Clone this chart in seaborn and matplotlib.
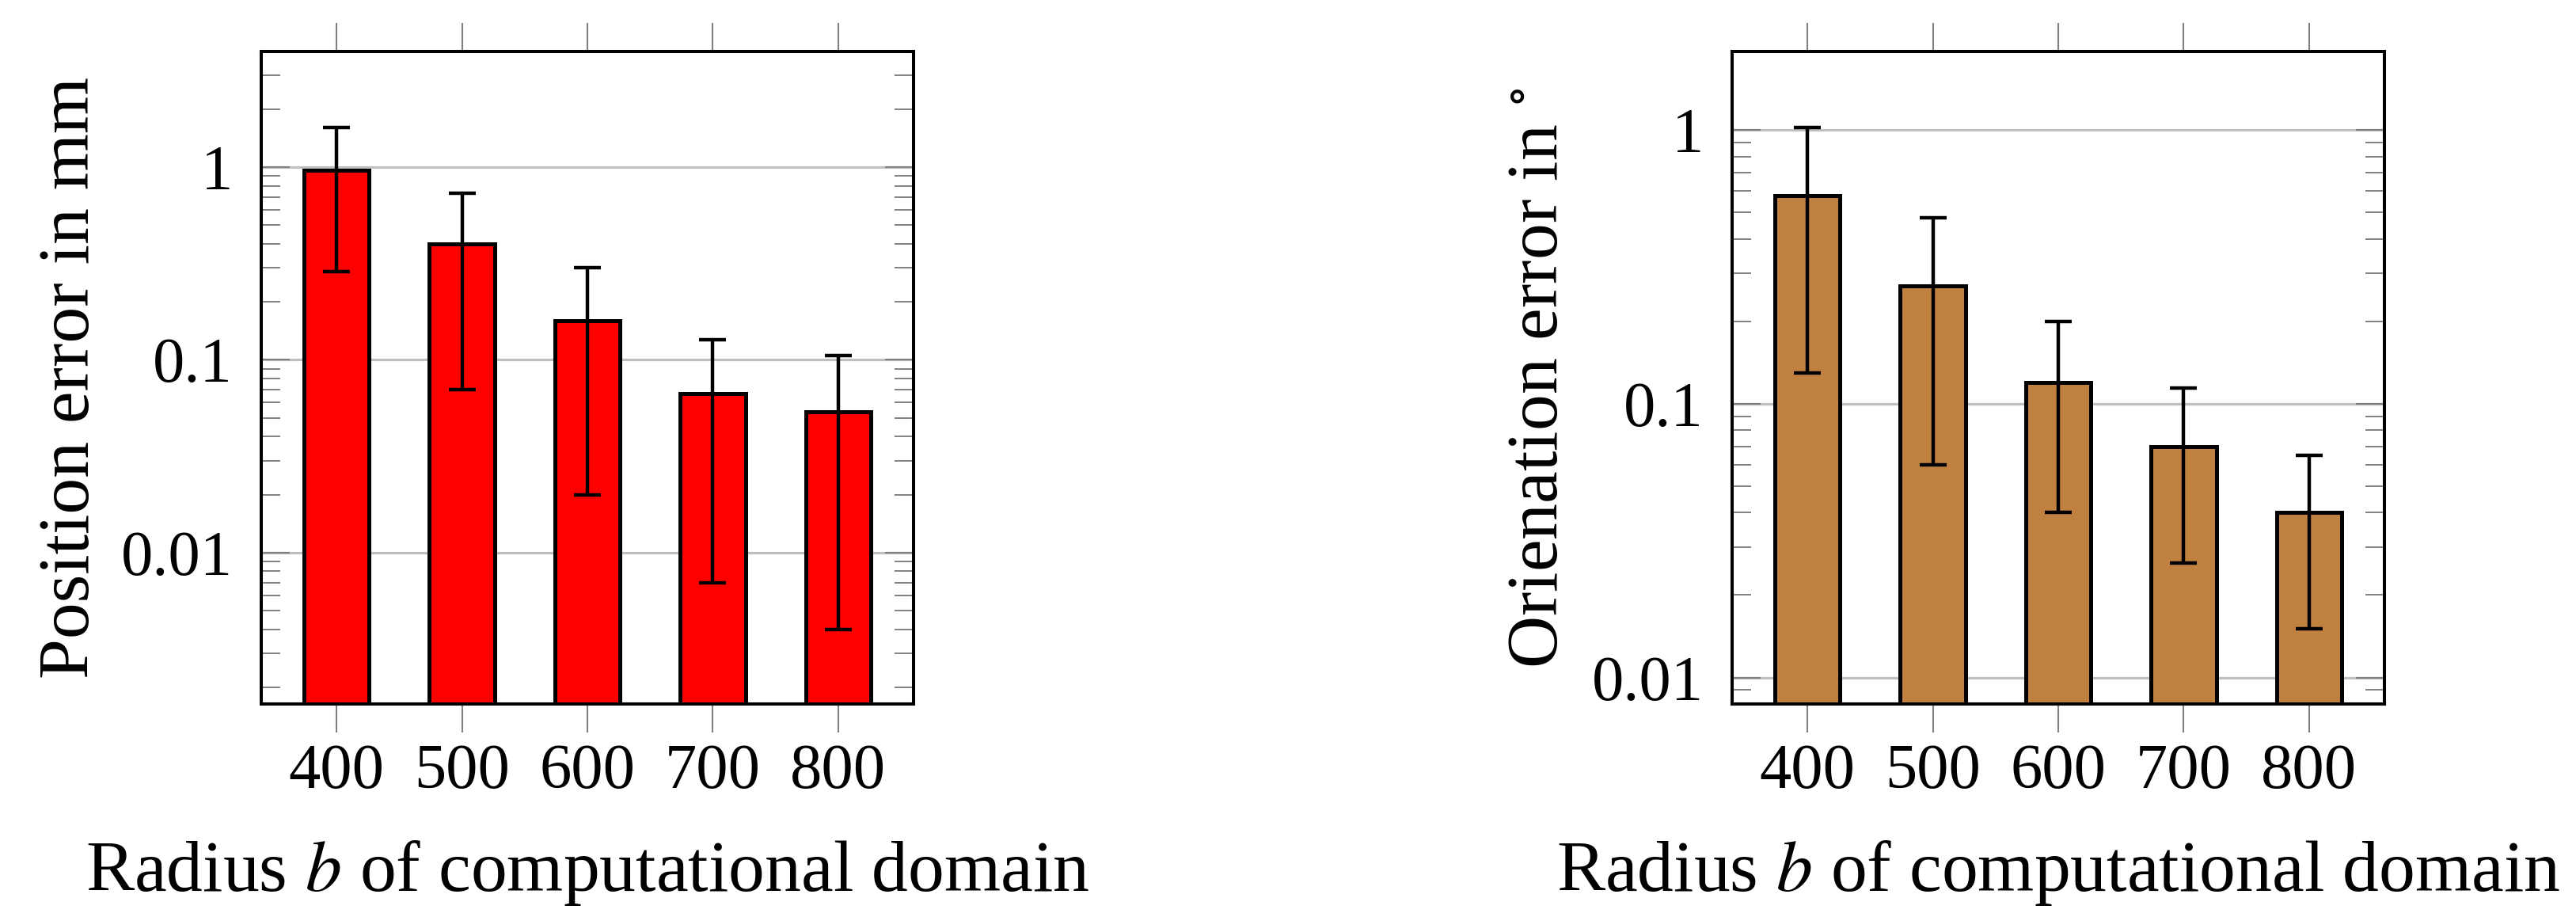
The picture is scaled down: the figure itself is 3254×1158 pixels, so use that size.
import numpy as np
import pandas as pd
import matplotlib
matplotlib.use('Agg')
import matplotlib.pyplot as plt
import seaborn as sns
from matplotlib.ticker import FixedLocator, FixedFormatter, LogLocator, NullFormatter

# ---- data ----
radius = ['400', '500', '600', '700', '800']

pos_err = [0.96, 0.40, 0.16, 0.067, 0.054]
pos_lo = [0.288, 0.070, 0.020, 0.0070, 0.0040]
pos_hi = [1.61, 0.734, 0.30, 0.127, 0.105]

ori_err = [0.578, 0.269, 0.120, 0.070, 0.040]
ori_lo = [0.130, 0.060, 0.040, 0.0262, 0.0151]
ori_hi = [1.024, 0.479, 0.200, 0.114, 0.065]

ytick_vals = [0.01, 0.1, 1]
ytick_labels = ['0.01', '0.1', '1']

xlabel = 'Radius $b$ of computational domain'
ylabel_pos = 'Position error in mm'
ylabel_ori = 'Orienation error in $^{\\circ}$'

# ---- style ----
sns.set_theme(style='white')
plt.rcParams['font.family'] = ['Liberation Serif', 'DejaVu Serif']
plt.rcParams['mathtext.fontset'] = 'stix'

W, H = 3255, 1158
FS = 58      # tick labels
LFS = 66     # axis labels
fig = plt.figure(figsize=(W / 100, H / 100), dpi=100)
ax1 = fig.add_axes([330 / W, 1 - 889 / H, 824 / W, 824 / H])
ax2 = fig.add_axes([2188 / W, 1 - 889 / H, 824 / W, 824 / H])


def panel(ax, vals, lo, hi, color, ylim, ylabel, ylab_x):
    df = pd.DataFrame({'radius': radius, 'err': vals})
    sns.barplot(data=df, x='radius', y='err', ax=ax, color=color, width=0.52,
                saturation=1, edgecolor='black', linewidth=3.6, errorbar=None,
                zorder=2)
    ax.set_yscale('log')
    x = np.arange(len(radius))
    v = np.asarray(vals)
    yerr = [v - np.asarray(lo), np.asarray(hi) - v]
    ax.errorbar(x, v, yerr=yerr, fmt='none', ecolor='black', elinewidth=3.2,
                capsize=12, capthick=3.2, zorder=3)
    ax.set_xlim(-0.6, 4.6)
    ax.set_ylim(*ylim)

    ax.yaxis.set_major_locator(FixedLocator(ytick_vals))
    ax.yaxis.set_major_formatter(FixedFormatter(ytick_labels))
    ax.yaxis.set_minor_locator(LogLocator(base=10, subs=np.arange(2, 10)))
    ax.yaxis.set_minor_formatter(NullFormatter())

    ax.tick_params(axis='x', which='major', direction='out', length=26,
                   width=1.5, color='#808080', top=True, bottom=True,
                   labelsize=FS, pad=10, labelcolor='black')
    ax.tick_params(axis='y', which='major', direction='in', length=26,
                   width=1.5, color='#808080', left=True, right=True,
                   labelsize=FS, pad=26, labelcolor='black')
    ax.tick_params(axis='y', which='minor', direction='in', length=17,
                   width=1.4, color='#808080', left=True, right=True)

    ax.grid(False)
    ax.yaxis.grid(True, which='major', color='#bfbfbf', linewidth=2.3)
    ax.set_axisbelow(True)

    for s in ax.spines.values():
        s.set_visible(True)
        s.set_color('black')
        s.set_linewidth(2.9)

    ax.set_xlabel(xlabel, fontsize=LFS, color='black')
    ax.xaxis.set_label_coords(0.5, (889 - 1125) / 824)
    ax.xaxis.label.set_verticalalignment('baseline')
    ax.set_ylabel(ylabel, fontsize=LFS, color='black')
    ax.yaxis.set_label_coords(ylab_x, 0.5)
    ax.yaxis.label.set_verticalalignment('baseline')


panel(ax1, pos_err, pos_lo, pos_hi, '#ff0000', (0.00164, 3.98), ylabel_pos,
      (112 - 330) / 824)
panel(ax2, ori_err, ori_lo, ori_hi, '#bf8040', (0.0080, 1.94), ylabel_ori,
      (1967 - 2188) / 824)

fig.savefig('out.png', dpi=100, facecolor='white')
